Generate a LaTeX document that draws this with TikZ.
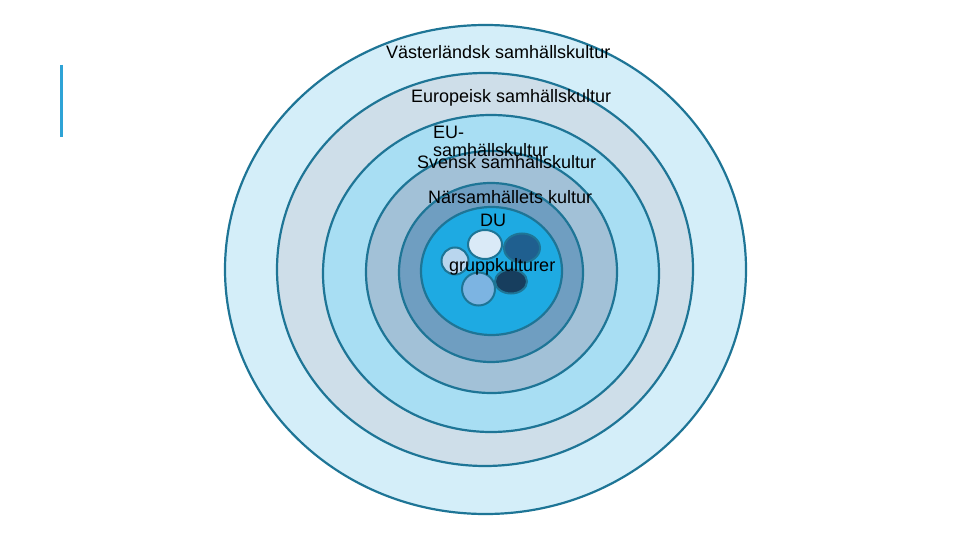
\documentclass[tikz,border=0pt]{standalone}
\usepackage{fontspec}
\setmainfont{Liberation Sans}
\usetikzlibrary{shapes.geometric}

\definecolor{ringline}{HTML}{1E7596}
\definecolor{accent}{HTML}{2EA3D6}
\definecolor{vastfill}{HTML}{D4EEF9}
\definecolor{eurofill}{HTML}{CEDEE9}
\definecolor{eufill}{HTML}{A8DEF3}
\definecolor{svefill}{HTML}{A2C1D7}
\definecolor{narfill}{HTML}{6F9EC1}
\definecolor{dufill}{HTML}{1EAAE2}
\definecolor{grpwhite}{HTML}{DAEAF7}
\definecolor{grpdark}{HTML}{1F5F8F}
\definecolor{grppale}{HTML}{B9D6EE}
\definecolor{grplight}{HTML}{7CB4E2}
\definecolor{grpnavy}{HTML}{173E5E}

\begin{document}
\begin{tikzpicture}[x=1pt, y=-1pt,
    ring/.style={ellipse, draw=ringline, line width=2.2pt, inner sep=0pt},
    grp/.style={ellipse, draw=ringline, line width=2pt, inner sep=0pt},
    lbl/.style={anchor=base west, inner sep=0pt, font=\fontsize{18}{18}\selectfont}]
  \fill[white] (0,0) rectangle (960,540);
  \useasboundingbox (0,0) rectangle (960,540);

  % accent bar
  \coordinate (bartop) at (61,65);
  \coordinate (barbot) at (61,137);
  \draw[accent, line width=3pt] (bartop) -- (barbot);

  % rings, outside in
  \node[ring, fill=vastfill, minimum width=521, minimum height=489] (vast) at (485.5,269.5) {};
  \node[ring, fill=eurofill, minimum width=416, minimum height=393] (europa) at (485,269.5) {};
  \node[ring, fill=eufill, minimum width=336, minimum height=317] (eu) at (491,273.5) {};
  \node[ring, fill=svefill, minimum width=251, minimum height=242] (sverige) at (491.5,272) {};
  \node[ring, fill=narfill, minimum width=184, minimum height=179] (narsam) at (491,272.5) {};
  \node[ring, fill=dufill, minimum width=141, minimum height=128] (du) at (491.5,271) {};

  % group cultures
  \node[grp, fill=grpwhite, minimum width=34, minimum height=29] (g1) at (485,244.5) {};
  \node[grp, fill=grpdark, minimum width=36, minimum height=29] (g2) at (522,248) {};
  \node[grp, fill=grppale, minimum width=27, minimum height=27] (g3) at (455,261) {};
  \node[grp, fill=grplight, minimum width=33, minimum height=33] (g4) at (478.5,289) {};
  \node[grp, fill=grpnavy, minimum width=32, minimum height=24] (g5) at (511,281.5) {};

  % labels
  \node[lbl] (lvast) at (386,59) {Västerländsk samhällskultur};
  \node[lbl] (leuropa) at (411,103) {Europeisk samhällskultur};
  \node[lbl, align=left] (leu) at (433,157) {EU-\\samhällskultur};
  \node[lbl] (lsverige) at (417,169) {Svensk samhällskultur};
  \node[lbl] (lnarsam) at (428,203) {Närsamhällets kultur};
  \node[lbl] (ldu) at (480,226) {DU};
  \node[lbl] (lgrp) at (449,271) {gruppkulturer};
\end{tikzpicture}
\end{document}
